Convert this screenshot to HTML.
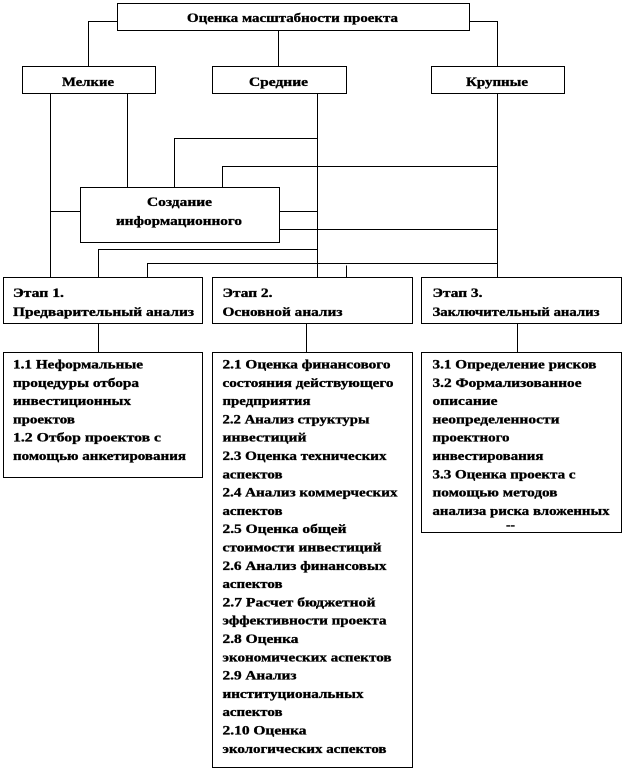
<!DOCTYPE html>
<html><head><meta charset="utf-8"><style>
html,body{margin:0;padding:0;background:#fff;}
svg{display:block;}
text{font-family:"Liberation Serif","DejaVu Serif",serif;font-weight:bold;font-size:13px;fill:#000;stroke:#000;stroke-width:0.35;}
</style></head><body>
<svg width="622" height="771" viewBox="0 0 622 771" xmlns="http://www.w3.org/2000/svg">
<g fill="none" stroke="#000" stroke-width="1">
<rect x="117.5" y="3.5" width="352" height="27"/>
<rect x="22.5" y="66.5" width="133" height="27"/>
<rect x="212.5" y="66.5" width="134" height="27"/>
<rect x="431.5" y="66.5" width="133" height="27"/>
<rect x="80.5" y="187.5" width="199" height="55"/>
<rect x="3.5" y="277.5" width="199" height="46"/>
<rect x="212.5" y="277.5" width="200" height="46"/>
<rect x="421.5" y="277.5" width="200" height="46"/>
<rect x="3.5" y="352.5" width="199" height="125"/>
<rect x="212.5" y="352.5" width="200" height="415"/>
<rect x="421.5" y="352.5" width="200" height="180"/>
<path d="M117.5 21.5H88.5V66.5 M278.5 30.5V66.5 M469.5 21.5H497.5V66.5"/>
<path d="M50.5 93.5V277.5 M127.5 93.5V187.5"/>
<path d="M317.5 93.5V277.5 M317.5 138.5H174.5V187.5"/>
<path d="M497.5 93.5V277.5 M497.5 166.5H222.5V187.5"/>
<path d="M50.5 211.5H80.5 M279.5 211.5H317.5 M279.5 229.5H497.5"/>
<path d="M317.5 249.5H98.5V277.5 M497.5 263.5H147.5V277.5 M346.5 265.5V277.5"/>
<path d="M98.5 323.5V352.5 M306.5 323.5V352.5 M517.5 323.5V352.5"/>
</g>
<text x="187" y="22" textLength="211" lengthAdjust="spacingAndGlyphs">Оценка масштабности проекта</text>
<text x="62" y="86" textLength="52" lengthAdjust="spacingAndGlyphs">Мелкие</text>
<text x="249" y="86" textLength="59" lengthAdjust="spacingAndGlyphs">Средние</text>
<text x="466" y="86" textLength="62" lengthAdjust="spacingAndGlyphs">Крупные</text>
<text x="147" y="206" textLength="65" lengthAdjust="spacingAndGlyphs">Создание</text>
<text x="116" y="225" textLength="126" lengthAdjust="spacingAndGlyphs">информационного</text>
<text x="13" y="297" textLength="51" lengthAdjust="spacingAndGlyphs">Этап 1.</text>
<text x="13" y="316" textLength="181" lengthAdjust="spacingAndGlyphs">Предварительный анализ</text>
<text x="222.5" y="297" textLength="50" lengthAdjust="spacingAndGlyphs">Этап 2.</text>
<text x="222.5" y="316" textLength="120" lengthAdjust="spacingAndGlyphs">Основной анализ</text>
<text x="432.5" y="297" textLength="50" lengthAdjust="spacingAndGlyphs">Этап 3.</text>
<text x="432.5" y="316" textLength="167" lengthAdjust="spacingAndGlyphs">Заключительный анализ</text>
<g>
<text x="13" y="368.5" textLength="130" lengthAdjust="spacingAndGlyphs">1.1  Неформальные</text>
<text x="13" y="386.8" textLength="126" lengthAdjust="spacingAndGlyphs">процедуры отбора</text>
<text x="13" y="405.1" textLength="118" lengthAdjust="spacingAndGlyphs">инвестиционных</text>
<text x="13" y="423.4" textLength="62" lengthAdjust="spacingAndGlyphs">проектов</text>
<text x="13" y="441.7" textLength="148" lengthAdjust="spacingAndGlyphs">1.2  Отбор проектов с</text>
<text x="13" y="460" textLength="173" lengthAdjust="spacingAndGlyphs">помощью анкетирования</text>
</g>
<g>
<text x="222.5" y="368.5" textLength="168" lengthAdjust="spacingAndGlyphs">2.1 Оценка финансового</text>
<text x="222.5" y="386.8" textLength="171" lengthAdjust="spacingAndGlyphs">состояния действующего</text>
<text x="222.5" y="405.1" textLength="88" lengthAdjust="spacingAndGlyphs">предприятия</text>
<text x="222.5" y="423.4" textLength="147" lengthAdjust="spacingAndGlyphs">2.2 Анализ структуры</text>
<text x="222.5" y="441.7" textLength="84" lengthAdjust="spacingAndGlyphs">инвестиций</text>
<text x="222.5" y="460" textLength="164" lengthAdjust="spacingAndGlyphs">2.3 Оценка технических</text>
<text x="222.5" y="478.3" textLength="60" lengthAdjust="spacingAndGlyphs">аспектов</text>
<text x="222.5" y="496.6" textLength="175" lengthAdjust="spacingAndGlyphs">2.4 Анализ коммерческих</text>
<text x="222.5" y="514.9" textLength="60" lengthAdjust="spacingAndGlyphs">аспектов</text>
<text x="222.5" y="533.2" textLength="124" lengthAdjust="spacingAndGlyphs">2.5 Оценка общей</text>
<text x="222.5" y="551.5" textLength="159" lengthAdjust="spacingAndGlyphs">стоимости инвестиций</text>
<text x="222.5" y="569.8" textLength="164" lengthAdjust="spacingAndGlyphs">2.6 Анализ финансовых</text>
<text x="222.5" y="588.1" textLength="60" lengthAdjust="spacingAndGlyphs">аспектов</text>
<text x="222.5" y="606.4" textLength="153" lengthAdjust="spacingAndGlyphs">2.7 Расчет бюджетной</text>
<text x="222.5" y="624.7" textLength="164" lengthAdjust="spacingAndGlyphs">эффективности  проекта</text>
<text x="222.5" y="643" textLength="76" lengthAdjust="spacingAndGlyphs">2.8 Оценка</text>
<text x="222.5" y="661.3" textLength="169" lengthAdjust="spacingAndGlyphs">экономических  аспектов</text>
<text x="222.5" y="679.6" textLength="74" lengthAdjust="spacingAndGlyphs">2.9 Анализ</text>
<text x="222.5" y="697.9" textLength="141" lengthAdjust="spacingAndGlyphs">институциональных</text>
<text x="222.5" y="716.2" textLength="60" lengthAdjust="spacingAndGlyphs">аспектов</text>
<text x="222.5" y="734.5" textLength="84" lengthAdjust="spacingAndGlyphs">2.10 Оценка</text>
<text x="222.5" y="752.8" textLength="164" lengthAdjust="spacingAndGlyphs">экологических  аспектов</text>
</g>
<g>
<text x="432.5" y="368.5" textLength="164" lengthAdjust="spacingAndGlyphs">3.1 Определение рисков</text>
<text x="432.5" y="386.8" textLength="149" lengthAdjust="spacingAndGlyphs">3.2 Формализованное</text>
<text x="432.5" y="405.1" textLength="65" lengthAdjust="spacingAndGlyphs">описание</text>
<text x="432.5" y="423.4" textLength="127" lengthAdjust="spacingAndGlyphs">неопределенности</text>
<text x="432.5" y="441.7" textLength="77" lengthAdjust="spacingAndGlyphs">проектного</text>
<text x="432.5" y="460" textLength="111" lengthAdjust="spacingAndGlyphs">инвестирования</text>
<text x="432.5" y="478.3" textLength="143" lengthAdjust="spacingAndGlyphs">3.3 Оценка проекта с</text>
<text x="432.5" y="496.6" textLength="125" lengthAdjust="spacingAndGlyphs">помощью методов</text>
<text x="432.5" y="514.9" textLength="177" lengthAdjust="spacingAndGlyphs">анализа риска вложенных</text>
<text x="506" y="529" textLength="9" lengthAdjust="spacingAndGlyphs">--</text>
</g>
</svg>
</body></html>
